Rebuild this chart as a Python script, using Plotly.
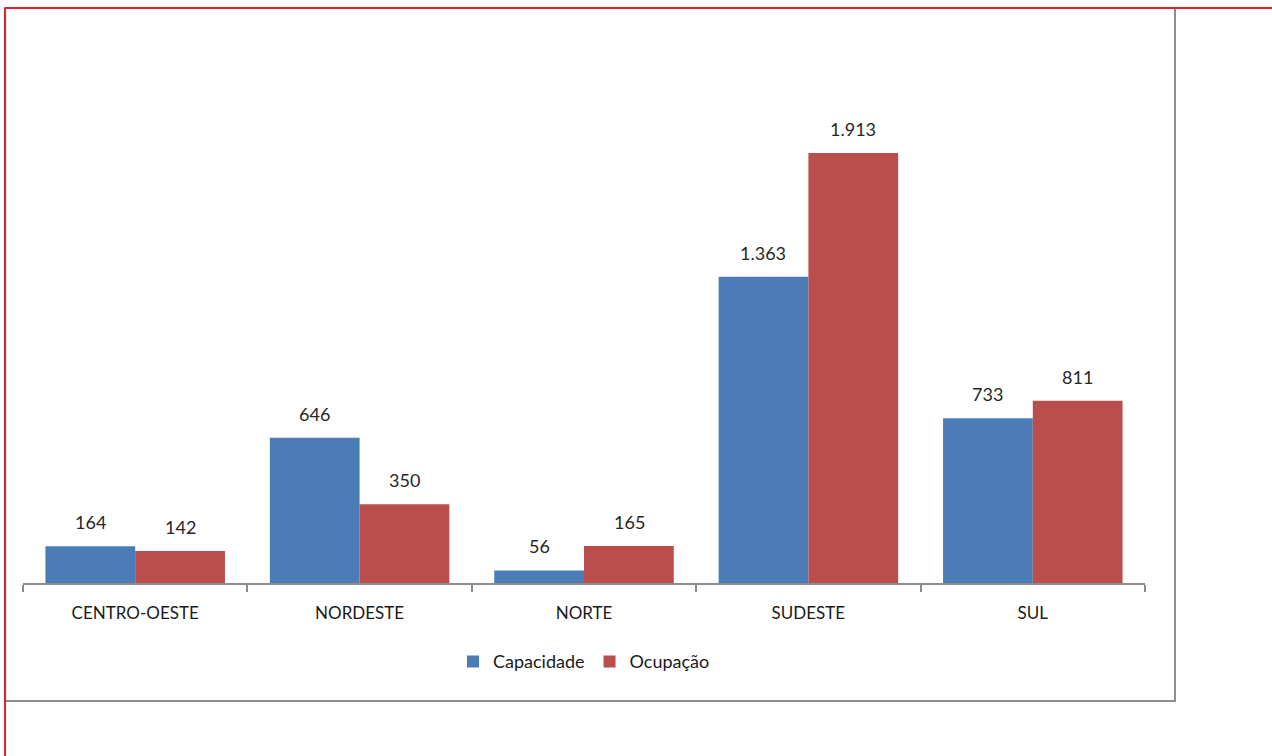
import plotly.graph_objects as go

regioes = ["CENTRO-OESTE", "NORDESTE", "NORTE", "SUDESTE", "SUL"]
capacidade = [164, 646, 56, 1363, 733]
ocupacao = [142, 350, 165, 1913, 811]


def fmt(v):
    return f"{v:,.0f}".replace(",", ".")


fig = go.Figure()

fig.add_bar(
    name="Capacidade",
    x=regioes,
    y=capacidade,
    marker=dict(color="#4C7CB6", line=dict(width=0))
)

fig.add_bar(
    name="Ocupação",
    x=regioes,
    y=ocupacao,
    marker=dict(color="#B94E4C", line=dict(width=0))
)

# rótulos de dados acima das barras
for serie, desloc in [(capacidade, -45), (ocupacao, 45)]:
    for reg, v in zip(regioes, serie):
        fig.add_annotation(
            x=reg,
            y=v,
            text=fmt(v),
            showarrow=False,
            xshift=desloc,
            yshift=11,
            yanchor="bottom",
            font=dict(size=18, color="#262626")
        )

# moldura do gráfico (cinza) e bordas vermelhas da célula
fig.add_shape(type="rect", xref="paper", yref="paper",
              x0=-0.016, x1=1.0267, y0=-0.2173, y1=1.0589,
              line=dict(color="#8C8C8C", width=2), layer="below")
fig.add_shape(type="line", xref="paper", yref="paper",
              x0=-0.016, x1=1.12, y0=1.0589, y1=1.0589,
              line=dict(color="#E0202A", width=2))
fig.add_shape(type="line", xref="paper", yref="paper",
              x0=-0.016, x1=-0.016, y0=-0.33, y1=1.0589,
              line=dict(color="#E0202A", width=2))

fig.update_layout(
    template="plotly_white",
    width=1272,
    height=756,
    margin=dict(l=23, r=127, t=40, b=173),
    paper_bgcolor="white",
    plot_bgcolor="white",
    barmode="group",
    bargap=0.2,
    bargroupgap=0,
    font=dict(family="Lato, Noto Sans, sans-serif", size=17, color="#262626"),
    legend=dict(
        orientation="h",
        x=0.5,
        xanchor="center",
        y=-0.145,
        yanchor="middle",
        font=dict(size=18, color="#1a1a1a"),
        traceorder="normal"
    ),
    xaxis=dict(
        showgrid=False,
        showline=True,
        linecolor="#8C8C8C",
        linewidth=2,
        ticks="outside",
        tickson="boundaries",
        ticklen=7,
        tickcolor="#8C8C8C",
        tickwidth=2,
        ticklabelstandoff=14,
        tickfont=dict(size=17, color="#1a1a1a")
    ),
    yaxis=dict(
        range=[0, 2416],
        visible=False,
        showgrid=False,
        zeroline=False
    )
)

fig.write_html(
    "out.html",
    config={"displayModeBar": False},
    post_script="document.body.style.margin='0';"
)
